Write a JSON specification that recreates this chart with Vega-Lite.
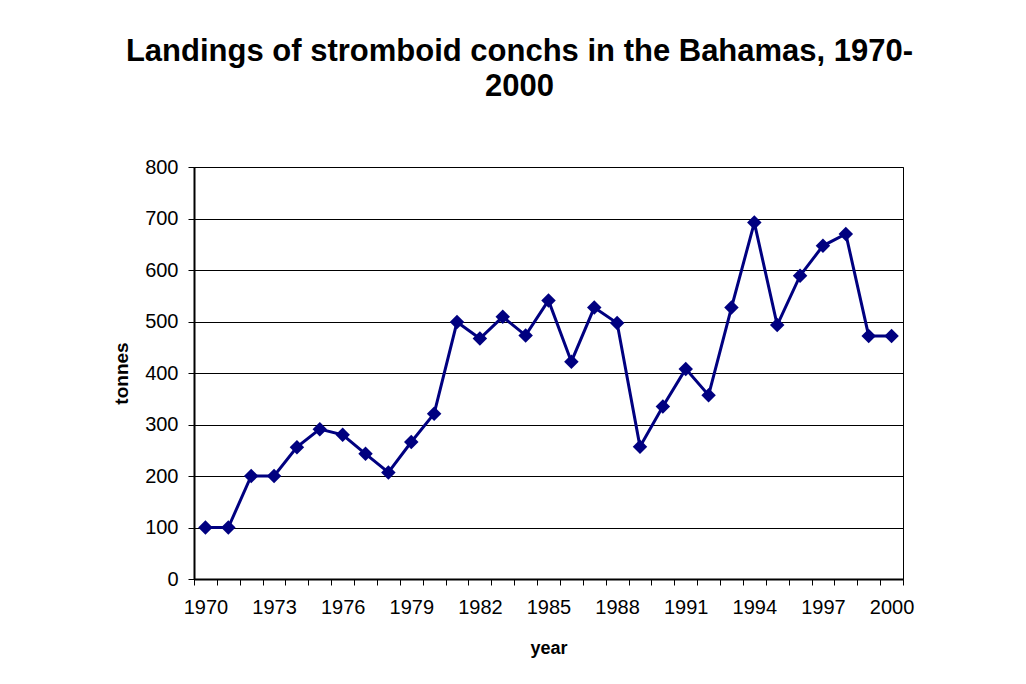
{
  "$schema": "https://vega.github.io/schema/vega-lite/v6.json",
  "autosize": "none",
  "width": 709,
  "height": 412,
  "padding": {"left": 194, "top": 167, "right": 123, "bottom": 105},
  "background": "white",
  "title": {
    "text": ["Landings of stromboid conchs in the Bahamas, 1970-", "2000"],
    "font": "Liberation Sans",
    "fontSize": 31,
    "fontWeight": "bold",
    "color": "#000",
    "anchor": "middle",
    "dx": -29,
    "offset": 54,
    "lineHeight": 35
  },
  "config": {
    "view": {"stroke": "#000", "strokeWidth": 1},
    "axis": {
      "labelFont": "Liberation Sans",
      "titleFont": "Liberation Sans",
      "labelColor": "#000",
      "titleColor": "#000",
      "domainColor": "#000",
      "tickColor": "#000",
      "gridColor": "#000"
    }
  },
  "data": {
    "values": [
      {"year": 1970, "tonnes": 100},
      {"year": 1971, "tonnes": 100},
      {"year": 1972, "tonnes": 200},
      {"year": 1973, "tonnes": 200},
      {"year": 1974, "tonnes": 256},
      {"year": 1975, "tonnes": 291},
      {"year": 1976, "tonnes": 280},
      {"year": 1977, "tonnes": 243},
      {"year": 1978, "tonnes": 207},
      {"year": 1979, "tonnes": 266},
      {"year": 1980, "tonnes": 321},
      {"year": 1981, "tonnes": 499},
      {"year": 1982, "tonnes": 467},
      {"year": 1983, "tonnes": 509},
      {"year": 1984, "tonnes": 473},
      {"year": 1985, "tonnes": 541},
      {"year": 1986, "tonnes": 422},
      {"year": 1987, "tonnes": 527},
      {"year": 1988, "tonnes": 497},
      {"year": 1989, "tonnes": 257},
      {"year": 1990, "tonnes": 335},
      {"year": 1991, "tonnes": 408},
      {"year": 1992, "tonnes": 357},
      {"year": 1993, "tonnes": 527},
      {"year": 1994, "tonnes": 692},
      {"year": 1995, "tonnes": 493},
      {"year": 1996, "tonnes": 589},
      {"year": 1997, "tonnes": 647},
      {"year": 1998, "tonnes": 670},
      {"year": 1999, "tonnes": 472},
      {"year": 2000, "tonnes": 472}
    ]
  },
  "mark": {
    "type": "line",
    "color": "#000080",
    "strokeWidth": 3,
    "point": {"shape": "diamond", "size": 210, "filled": true, "color": "#000080", "opacity": 1}
  },
  "encoding": {
    "x": {
      "field": "year",
      "type": "ordinal",
      "bandPosition": 0.5,
      "scale": {"type": "band", "paddingInner": 0, "paddingOuter": 0},
      "axis": {
        "title": "year",
        "titleFontSize": 18,
        "titleFontWeight": "bold",
        "titlePadding": 22,
        "labelFontSize": 20,
        "labelAngle": 0,
        "labelPadding": 12,
        "labelOverlap": false,
        "labelExpr": "(datum.value - 1970) % 3 == 0 ? datum.label : ''",
        "tickBand": "extent",
        "tickSize": 6,
        "domainWidth": 2,
        "grid": false
      }
    },
    "y": {
      "field": "tonnes",
      "type": "quantitative",
      "scale": {"domain": [0, 800], "nice": false},
      "axis": {
        "title": "tonnes",
        "titleFontSize": 19,
        "titleFontWeight": "bold",
        "titlePadding": 13,
        "labelFontSize": 20,
        "labelPadding": 10,
        "values": [0, 100, 200, 300, 400, 500, 600, 700, 800],
        "tickSize": 6,
        "domainWidth": 2,
        "grid": true,
        "gridWidth": 1
      }
    }
  }
}
